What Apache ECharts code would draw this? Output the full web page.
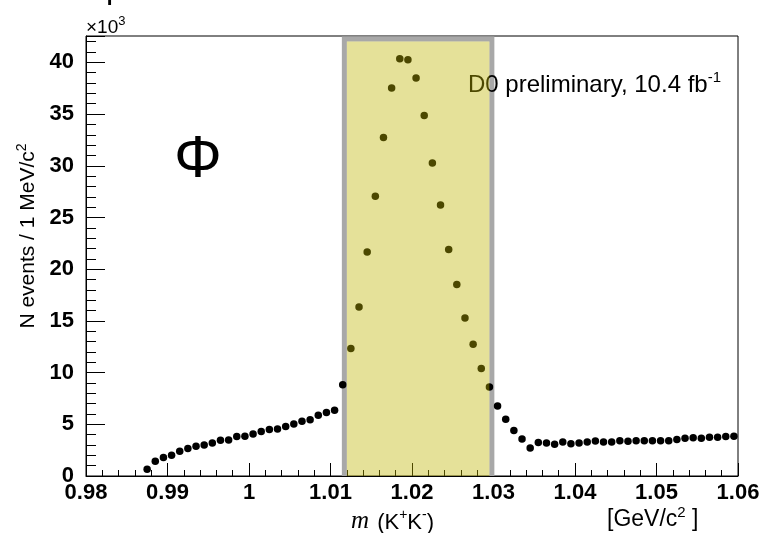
<!DOCTYPE html>
<html>
<head>
<meta charset="utf-8">
<script src="https://cdn.jsdelivr.net/npm/echarts@6/dist/echarts.min.js"></script>
<style>
  html, body { margin: 0; padding: 0; background: #fff; }
  #chart { width: 763px; height: 533px; }
</style>
</head>
<body>
<div id="chart"></div>
<script>
// K+K- invariant mass, bin centres in GeV/c^2 (1 MeV bins)
const massBins = [
  0.9875, 0.9885, 0.9895, 0.9905, 0.9915, 0.9925, 0.9935, 0.9945, 0.9955, 0.9965,
  0.9975, 0.9985, 0.9995, 1.0005, 1.0015, 1.0025, 1.0035, 1.0045, 1.0055, 1.0065,
  1.0075, 1.0085, 1.0095, 1.0105, 1.0115, 1.0125, 1.0135, 1.0145, 1.0155, 1.0165,
  1.0175, 1.0185, 1.0195, 1.0205, 1.0215, 1.0225, 1.0235, 1.0245, 1.0255, 1.0265,
  1.0275, 1.0285, 1.0295, 1.0305, 1.0315, 1.0325, 1.0335, 1.0345, 1.0355, 1.0365,
  1.0375, 1.0385, 1.0395, 1.0405, 1.0415, 1.0425, 1.0435, 1.0445, 1.0455, 1.0465,
  1.0475, 1.0485, 1.0495, 1.0505, 1.0515, 1.0525, 1.0535, 1.0545, 1.0555, 1.0565,
  1.0575, 1.0585, 1.0595
];

// events per bin, in units of 10^3
const counts = [
  0.65, 1.42, 1.78, 2.00, 2.39, 2.65, 2.87, 3.00, 3.20, 3.45,
  3.48, 3.81, 3.84, 4.07, 4.30, 4.49, 4.55, 4.78, 5.03, 5.29,
  5.45, 5.87, 6.13, 6.36, 8.83, 12.33, 16.35, 21.67, 27.06, 32.74,
  37.51, 40.35, 40.25, 38.48, 34.87, 30.26, 26.20, 21.90, 18.52, 15.29,
  12.74, 10.39, 8.60, 6.77, 5.49, 4.39, 3.58, 2.71, 3.23, 3.19,
  3.07, 3.29, 3.13, 3.19, 3.29, 3.39, 3.29, 3.29, 3.42, 3.36,
  3.42, 3.42, 3.42, 3.42, 3.42, 3.52, 3.65, 3.71, 3.65, 3.74,
  3.74, 3.81, 3.84, 3.97
].slice(0, 73);

// axis ranges and tick spacing
const xRange = [0.98, 1.06];
const xStep = 0.01;
const yRange = [0, 42.55];
const yStep = 5;

// phi signal window [low, high] in GeV/c^2 and its upper edge (10^3 events)
const signalWindow = [1.0117, 1.0298];
const signalTop = 42.25;

const FONT = '"Liberation Sans", Arial, Helvetica, sans-serif';

const points = massBins.map((m, i) => [m, counts[i]]);

const chart = echarts.init(document.getElementById('chart'), null, { renderer: 'canvas' });

chart.setOption({
  animation: false,
  backgroundColor: '#fff',
  grid: {
    left: 86, right: 25, top: 36, bottom: 57,
    show: true, borderColor: '#000', borderWidth: 1, backgroundColor: 'transparent'
  },
  xAxis: {
    type: 'value',
    min: xRange[0], max: xRange[1], interval: xStep,
    axisLine: { show: true, onZero: false, lineStyle: { color: '#000', width: 1 } },
    axisTick: { show: true, inside: true, length: 13, lineStyle: { color: '#000', width: 1 } },
    minorTick: { show: true, splitNumber: 5, length: 6, lineStyle: { color: '#000', width: 1 } },
    splitLine: { show: false },
    axisLabel: {
      margin: 6,
      color: '#000',
      fontFamily: FONT, fontWeight: 'bold', fontSize: 22,
      formatter: v => {
        const r = Math.round(v * 100) / 100;
        return Math.abs(r - v) < 1e-9 ? String(r) : '';
      }
    }
  },
  yAxis: {
    type: 'value',
    min: yRange[0], max: yRange[1], interval: yStep,
    axisLine: { show: true, onZero: false, lineStyle: { color: '#000', width: 1 } },
    axisTick: { show: true, inside: true, length: 19, lineStyle: { color: '#000', width: 1 } },
    minorTick: { show: true, splitNumber: 5, length: 10, lineStyle: { color: '#000', width: 1 } },
    splitLine: { show: false },
    axisLabel: {
      margin: 12,
      color: '#000',
      fontFamily: FONT, fontWeight: 'bold', fontSize: 22,
      formatter: v => (Math.abs(v % yStep) < 1e-9 ? String(v) : '')
    }
  },
  series: [
    {
      // grey frame of the signal window, under the points
      type: 'custom',
      z: 1,
      silent: true,
      data: [[signalWindow[0], signalWindow[1], signalTop]],
      encode: { x: [0, 1], y: 2 },
      renderItem: (params, api) => {
        const tl = api.coord([api.value(0), api.value(2)]);
        const br = api.coord([api.value(1), 0]);
        return {
          type: 'polyline',
          shape: { points: [[tl[0], br[1]], [tl[0], tl[1]], [br[0], tl[1]], [br[0], br[1]]] },
          style: { fill: null, stroke: '#a8a8a8', lineWidth: 5 }
        };
      }
    },
    {
      type: 'scatter',
      z: 2,
      symbol: 'circle',
      symbolSize: 7.5,
      itemStyle: { color: '#000', opacity: 1 },
      data: points
    },
    {
      // translucent yellow fill of the signal window, over the points
      type: 'custom',
      z: 4,
      silent: true,
      data: [[signalWindow[0], signalWindow[1], signalTop]],
      encode: { x: [0, 1], y: 2 },
      renderItem: (params, api) => {
        const tl = api.coord([api.value(0), api.value(2)]);
        const br = api.coord([api.value(1), 0]);
        return {
          type: 'rect',
          shape: { x: tl[0] + 2.5, y: tl[1] + 2.5, width: br[0] - tl[0] - 5, height: br[1] - tl[1] - 2.5 },
          style: { fill: 'rgba(191,180,0,0.4)' }
        };
      }
    }
  ],
  graphic: [
    {
      type: 'text', z: 5,
      x: 109.5, y: 9,
      style: { text: 'T', fontFamily: FONT, fontWeight: 'bold', fontSize: 20, fill: '#000', textAlign: 'center', textVerticalAlign: 'bottom' }
    },
    {
      // axis multiplier
      type: 'text', z: 5,
      x: 86, y: 26,
      style: {
        text: '{a|×10}{s|3}',
        textAlign: 'left', textVerticalAlign: 'middle',
        rich: {
          a: { fontFamily: FONT, fontSize: 19, color: '#000', lineHeight: 22, verticalAlign: 'bottom' },
          s: { fontFamily: FONT, fontSize: 13, color: '#000', lineHeight: 22, verticalAlign: 'top' }
        }
      }
    },
    {
      type: 'text', z: 5,
      x: 198, y: 160,
      style: { text: 'Φ', fontFamily: FONT, fontSize: 60, fill: '#000', textAlign: 'center', textVerticalAlign: 'middle' }
    },
    {
      // sits under the yellow fill, so the part inside the window is tinted
      type: 'text', z: 3,
      x: 468, y: 84,
      style: {
        text: '{a|D0 preliminary, 10.4 fb}{s|-1}',
        textAlign: 'left', textVerticalAlign: 'middle',
        rich: {
          a: { fontFamily: FONT, fontSize: 24, color: '#000', lineHeight: 27, verticalAlign: 'bottom' },
          s: { fontFamily: FONT, fontSize: 15, color: '#000', lineHeight: 27, verticalAlign: 'top' }
        }
      }
    },
    {
      type: 'text', z: 5,
      x: 27, y: 236, rotation: Math.PI / 2,
      style: {
        text: '{a|N events / 1 MeV/c}{s|2}',
        textAlign: 'center', textVerticalAlign: 'middle',
        rich: {
          a: { fontFamily: FONT, fontSize: 21, color: '#000', lineHeight: 24, verticalAlign: 'bottom' },
          s: { fontFamily: FONT, fontSize: 14, color: '#000', lineHeight: 24, verticalAlign: 'top' }
        }
      }
    },
    {
      type: 'text', z: 5,
      x: 351, y: 521,
      style: {
        text: '{m|m}{a| (K}{s|+}{a|K}{s|-}{a|)}',
        textAlign: 'left', textVerticalAlign: 'middle',
        rich: {
          m: { fontFamily: '"Liberation Serif", "Times New Roman", serif', fontStyle: 'italic', fontSize: 25, color: '#000', lineHeight: 26, verticalAlign: 'bottom', padding: [0, 2, 0, 0] },
          a: { fontFamily: FONT, fontSize: 22, color: '#000', lineHeight: 26, verticalAlign: 'bottom' },
          s: { fontFamily: FONT, fontSize: 14, color: '#000', lineHeight: 26, verticalAlign: 'top' }
        }
      }
    },
    {
      type: 'text', z: 5,
      x: 607, y: 518,
      style: {
        text: '{a|[GeV/c}{s|2}{a| ]}',
        textAlign: 'left', textVerticalAlign: 'middle',
        rich: {
          a: { fontFamily: FONT, fontSize: 23, color: '#000', lineHeight: 26, verticalAlign: 'bottom' },
          s: { fontFamily: FONT, fontSize: 15, color: '#000', lineHeight: 26, verticalAlign: 'top' }
        }
      }
    }
  ]
});
</script>
</body>
</html>
